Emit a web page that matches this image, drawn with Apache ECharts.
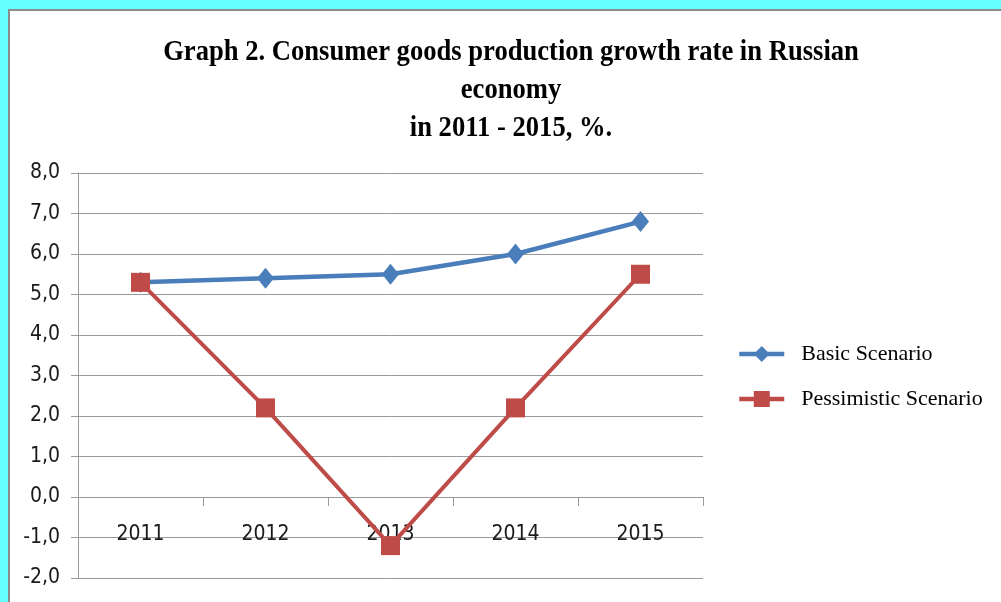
<!DOCTYPE html>
<html>
<head>
<meta charset="utf-8">
<title>Consumer goods production growth rate</title>
<script src="https://cdn.jsdelivr.net/npm/echarts@6/dist/echarts.min.js"></script>
<style>
  html, body { margin: 0; padding: 0; background: #ffffff; }
  #chart { width: 1001px; height: 602px; }
</style>
</head>
<body>
<div id="chart"></div>
<script>
// Years on the category axis
const years = ['2011', '2012', '2013', '2014', '2015'];
// Growth rate, %
const basicScenario = [5.3, 5.4, 5.5, 6.0, 6.8];
const pessimisticScenario = [5.3, 2.2, -1.2, 2.2, 5.5];
const seriesNames = ['Basic Scenario', 'Pessimistic Scenario'];
const titleLines = [
  'Graph 2. Consumer goods production growth rate in Russian',
  'economy',
  'in 2011 - 2015, %.'
];

const axisFont = '"DejaVu Sans Condensed", "DejaVu Sans", sans-serif';
const serifFont = '"Liberation Serif", "Times New Roman", serif';
const gridGray = '#9a9a9a';

const Y_MIN = -2, Y_MAX = 8;
const GRID = { left: 78, top: 173, width: 625, height: 405 };
// the category axis sits on the zero line, so lift it from the grid bottom
const zeroOffset = -GRID.height * (0 - Y_MIN) / (Y_MAX - Y_MIN);

const chart = echarts.init(document.getElementById('chart'), null, { renderer: 'canvas' });

chart.setOption({
  backgroundColor: '#66ffff',
  animation: false,
  graphic: [
    {
      type: 'rect',
      z: -10,
      silent: true,
      shape: { x: 9, y: 10, width: 1000, height: 600 },
      style: { fill: '#ffffff', stroke: '#8c8c8c', lineWidth: 2 }
    },
    {
      // condensed bold heading
      type: 'text',
      silent: true,
      x: 511,
      y: 34,
      scaleX: 0.917,
      style: {
        text: titleLines.join('\n'),
        font: 'bold 29px ' + serifFont,
        lineHeight: 38,
        fill: '#000000',
        align: 'center',
        verticalAlign: 'top'
      }
    }
  ],
  legend: {
    orient: 'vertical',
    left: 732,
    top: 338,
    itemWidth: 45,
    itemHeight: 20,
    itemGap: 23,
    data: seriesNames,
    lineStyle: { width: 4.5 },
    textStyle: {
      fontFamily: serifFont,
      fontSize: 22,
      color: '#000000',
      padding: [0, 0, 0, 12]
    }
  },
  grid: {
    left: GRID.left,
    top: GRID.top,
    width: GRID.width,
    height: GRID.height,
    containLabel: false,
    outerBoundsMode: 'none'
  },
  xAxis: {
    type: 'category',
    data: years,
    boundaryGap: true,
    position: 'bottom',
    offset: zeroOffset,
    axisLine: { onZero: false, lineStyle: { color: gridGray, width: 1 } },
    axisTick: { show: true, length: 9, alignWithLabel: false, lineStyle: { color: gridGray } },
    axisLabel: {
      margin: 27,
      fontFamily: axisFont,
      fontSize: 21,
      color: '#1a1a1a'
    }
  },
  yAxis: {
    type: 'value',
    min: Y_MIN,
    max: Y_MAX,
    interval: 1,
    axisLine: { show: true, lineStyle: { color: gridGray, width: 1 } },
    axisTick: { show: true, length: 7, lineStyle: { color: gridGray } },
    splitLine: { show: true, lineStyle: { color: gridGray, width: 1 } },
    axisLabel: {
      margin: 18,
      fontFamily: axisFont,
      fontSize: 21,
      color: '#1a1a1a',
      formatter: v => v.toFixed(1).replace('.', ',')
    }
  },
  series: [
    {
      name: seriesNames[0],
      type: 'line',
      data: basicScenario,
      symbol: 'diamond',
      symbolSize: [17, 21],
      color: '#4a7ebb',
      lineStyle: { width: 4.5, color: '#4a7ebb' },
      itemStyle: { color: '#4a7ebb' }
    },
    {
      name: seriesNames[1],
      type: 'line',
      data: pessimisticScenario,
      symbol: 'rect',
      symbolSize: 19,
      color: '#be4b48',
      lineStyle: { width: 4, color: '#be4b48' },
      itemStyle: { color: '#be4b48' }
    }
  ]
});
</script>
</body>
</html>
